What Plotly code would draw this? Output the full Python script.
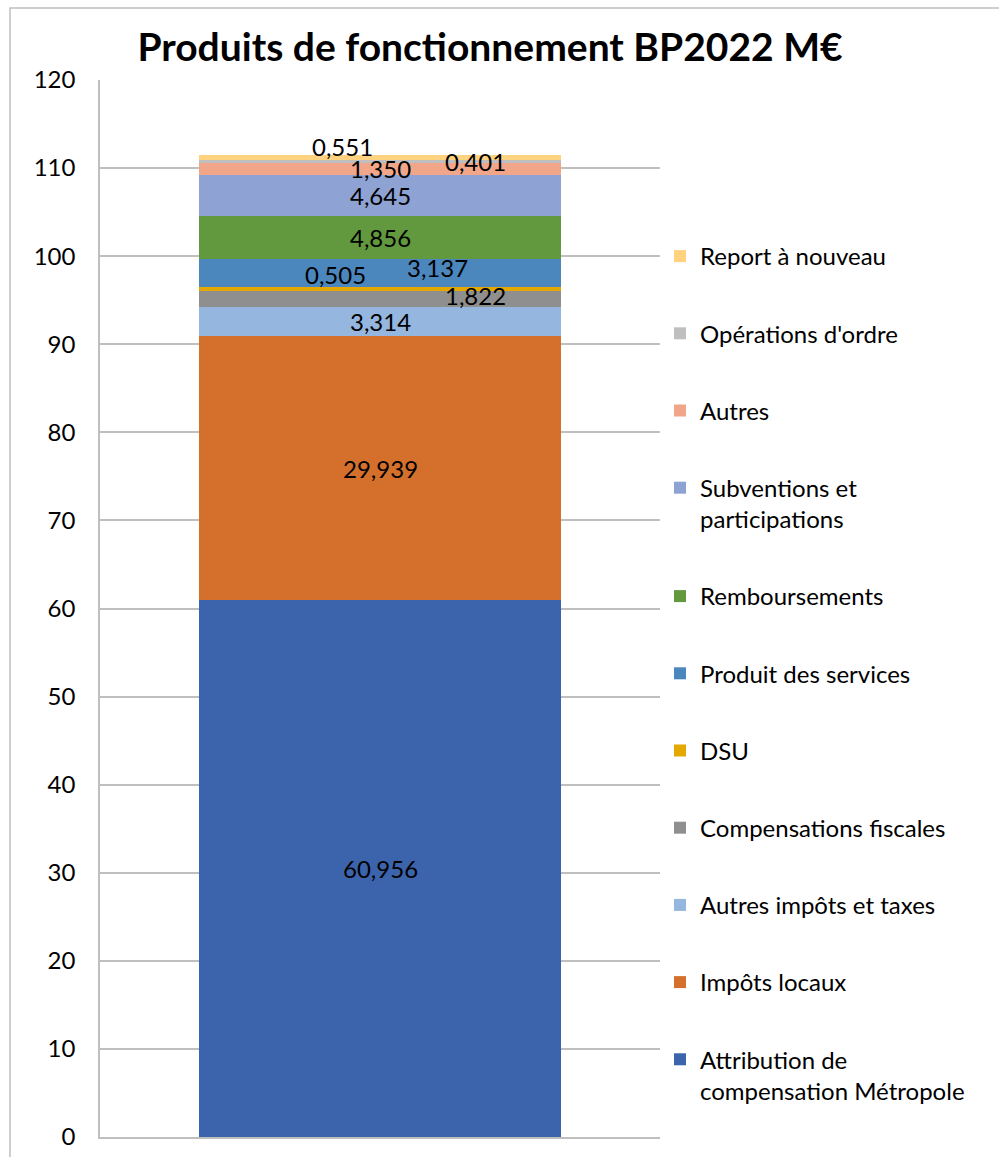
import plotly.graph_objects as go

categories = ["Attribution de<br>compensation Métropole", "Impôts locaux", "Autres impôts et taxes",
              "Compensations fiscales", "DSU", "Produit des services", "Remboursements",
              "Subventions et<br>participations", "Autres", "Opérations d'ordre", "Report à nouveau"]
values = [60.956, 29.939, 3.314, 1.822, 0.505, 3.137, 4.856, 4.645, 1.350, 0.401, 0.551]
labels = ["60,956", "29,939", "3,314", "1,822", "0,505", "3,137", "4,856", "4,645", "1,350", "0,401", "0,551"]
colors = ["#3C64AC", "#D4702C", "#95B6DE", "#8F8F8F", "#E4A800", "#4B87BD", "#62993E",
          "#8EA3D3", "#F1A68A", "#BFBFBF", "#FFD27F"]
# label pixel offsets (manual placement as in source chart)
label_dx = [0, 0, 0, 95, -45, 57, 0, 0, 0, 95, -38]
label_dy = [0, 0, 0, 4, 14, 5, 0, 0, 1, 0, 11]

FONT = "Lato"
fig = go.Figure()
for i, (c, v, col) in enumerate(zip(categories, values, colors)):
    fig.add_trace(go.Bar(x=[0], y=[v], name=c, marker=dict(color=col, line=dict(width=0)),
                         width=0.645, legendgroup=str(i), legendrank=1000 - i, hoverinfo="skip"))

base = 0
for v, lab, dx, dy in zip(values, labels, label_dx, label_dy):
    fig.add_annotation(x=0, y=base + v / 2, text=lab, showarrow=False, xshift=dx, yshift=dy,
                       font=dict(family=FONT, size=24, color="#000000"))
    base += v

B = 20
PB = 1157 - B  # pixel y of plot bottom
PH = PB - 80
fig.update_layout(
    width=999, height=1157, barmode="stack",
    margin=dict(l=100, r=339, t=80, b=B, autoexpand=False),
    paper_bgcolor="white", plot_bgcolor="white",
    font=dict(family=FONT, size=24, color="#000000"),
    title=dict(text="<b>Produits de fonctionnement BP2022 M€</b>", x=0.4905, xanchor="center",
               y=1 - 47 / 1157, yanchor="middle", font=dict(family=FONT, size=39, color="#000000")),
    xaxis=dict(range=[-0.5, 0.5], showticklabels=False, showgrid=False, zeroline=False,
               showline=True, linecolor="#BFBFBF", linewidth=1.5, fixedrange=True),
    yaxis=dict(range=[0, 120], dtick=10, tick0=0, showgrid=True, gridcolor="#BFBFBF", gridwidth=1.5,
               zeroline=False, showline=True, linecolor="#BFBFBF", linewidth=1.5,
               ticks="", ticklabelstandoff=18, tickfont=dict(family=FONT, size=24, color="#000000")),
    legend=dict(x=1.0, xanchor="left", y=(PB - 234) / PH, yanchor="top",
                traceorder="grouped", tracegroupgap=43, valign="top",
                font=dict(family=FONT, size=24, color="#000000"), itemwidth=30,
                bgcolor="rgba(0,0,0,0)"),
    showlegend=True,
)
fig.add_shape(type="rect", xref="paper", yref="paper", x0=-90 / 560, x1=2.0, y0=-1.0, y1=(PB - 8) / PH,
              line=dict(color="#BFBFBF", width=1.5), fillcolor="rgba(0,0,0,0)", layer="below")
fig.write_html("out.html", post_script="document.body.style.margin='0';",
               config={"displayModeBar": False})
